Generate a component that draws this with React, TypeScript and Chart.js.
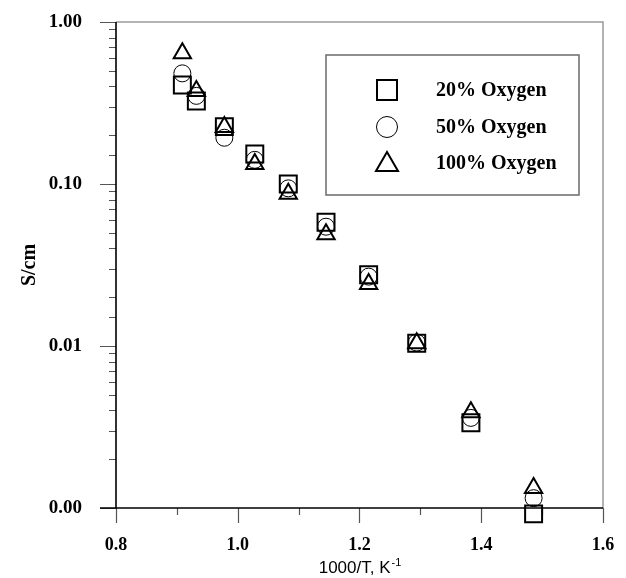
import React, { useEffect, useRef } from 'react';
import { Chart, registerables } from 'chart.js';

Chart.register(...registerables);

// 1000/T (K^-1)
const xValues = [0.909, 0.932, 0.978, 1.028, 1.083, 1.145, 1.215, 1.294, 1.383, 1.486];
// conductivity, S/cm
const oxygen20 = [0.408, 0.325, 0.226, 0.153, 0.100, 0.058, 0.0275, 0.0104, 0.00336, 0.00092];
const oxygen50 = [0.482, 0.35, 0.193, 0.141, 0.094, 0.0545, 0.0268, 0.0105, 0.0036, 0.00115];
const oxygen100 = [0.641, 0.375, 0.225, 0.133, 0.087, 0.049, 0.0241, 0.0104, 0.0039, 0.00133];
const seriesLabels = ['20% Oxygen', '50% Oxygen', '100% Oxygen'];
const xTitle = '1000/T, K';
const xTitleSup = '-1';
const yTitle = 'S/cm';

const SERIF = '"Liberation Serif", "Times New Roman", serif';
const SANS = '"Liberation Sans", Arial, sans-serif';

const isPow10 = (v: number) => {
  const l = Math.log10(v);
  return Math.abs(l - Math.round(l)) < 1e-6;
};
const isMajorX = (v: number) => Math.abs(v * 5 - Math.round(v * 5)) < 1e-6;

const framePlugin = {
  id: 'frame',
  beforeDatasetsDraw(chart: any) {
    const { ctx, chartArea } = chart;
    const { left, right, top, bottom } = chartArea;
    const xs = chart.scales.x;
    const ys = chart.scales.y;
    ctx.save();
    // top & right border
    ctx.strokeStyle = '#9a9a9a';
    ctx.lineWidth = 1.5;
    ctx.beginPath();
    ctx.moveTo(left, top);
    ctx.lineTo(right, top);
    ctx.lineTo(right, bottom);
    ctx.stroke();
    // ticks
    ctx.strokeStyle = '#555';
    ctx.lineWidth = 1.2;
    ctx.beginPath();
    xs.ticks.forEach((t: any) => {
      const px = Math.round(xs.getPixelForValue(t.value)) + 0.5;
      const len = isMajorX(t.value) ? 15 : 7;
      ctx.moveTo(px, bottom);
      ctx.lineTo(px, bottom + len);
    });
    ys.ticks.forEach((t: any) => {
      const py = Math.round(ys.getPixelForValue(t.value)) + 0.5;
      const len = isPow10(t.value) ? 16 : 7;
      ctx.moveTo(left, py);
      ctx.lineTo(left - len, py);
    });
    ctx.stroke();
    // main axes
    ctx.strokeStyle = '#000';
    ctx.lineWidth = 1.6;
    ctx.beginPath();
    ctx.moveTo(left, top);
    ctx.lineTo(left, bottom);
    ctx.moveTo(left - 16, bottom);
    ctx.lineTo(right, bottom);
    ctx.stroke();
    ctx.restore();
  },
  afterDraw(chart: any) {
    const { ctx, chartArea } = chart;
    const { left, right, top } = chartArea;
    ctx.save();
    // legend box
    const bx = left + 210;
    const by = top + 33;
    const bw = 253;
    const bh = 140;
    ctx.strokeStyle = '#6a6a6a';
    ctx.lineWidth = 1.5;
    ctx.strokeRect(bx, by, bw, bh);
    const sx = bx + 61;
    const tx = bx + 110;
    const rows = [by + 35, by + 72, by + 108];
    ctx.strokeStyle = '#000';
    // square
    ctx.lineWidth = 2;
    ctx.strokeRect(sx - 10, rows[0] - 10, 20, 20);
    // circle
    ctx.lineWidth = 1;
    ctx.beginPath();
    ctx.arc(sx, rows[1], 10.5, 0, Math.PI * 2);
    ctx.stroke();
    // triangle
    ctx.lineWidth = 2;
    ctx.beginPath();
    ctx.moveTo(sx, rows[2] - 11);
    ctx.lineTo(sx + 11, rows[2] + 8);
    ctx.lineTo(sx - 11, rows[2] + 8);
    ctx.closePath();
    ctx.stroke();
    ctx.fillStyle = '#000';
    ctx.font = `bold 20px ${SERIF}`;
    ctx.textAlign = 'left';
    ctx.textBaseline = 'middle';
    seriesLabels.forEach((s, i) => ctx.fillText(s, tx, rows[i] + 1));
    // x title with superscript
    ctx.font = `17px ${SANS}`;
    const w1 = ctx.measureText(xTitle).width;
    ctx.font = `11px ${SANS}`;
    const w2 = ctx.measureText(xTitleSup).width;
    const cx = (left + right) / 2;
    const x0 = cx - (w1 + w2) / 2;
    const ty = 567;
    ctx.textBaseline = 'alphabetic';
    ctx.font = `17px ${SANS}`;
    ctx.fillText(xTitle, x0, ty + 6);
    ctx.font = `11px ${SANS}`;
    ctx.fillText(xTitleSup, x0 + w1 + 1, ty - 1);
    ctx.restore();
  },
};

export default function App() {
  const ref = useRef<HTMLCanvasElement | null>(null);
  useEffect(() => {
    if (!ref.current) return;
    const mk = (ys: number[]) => xValues.map((x, i) => ({ x, y: ys[i] }));
    const chart = new Chart(ref.current, {
      type: 'scatter',
      data: {
        datasets: [
          {
            label: seriesLabels[0],
            data: mk(oxygen20),
            pointStyle: 'rect',
            pointRadius: 12,
            borderColor: '#000',
            backgroundColor: 'transparent',
            borderWidth: 2,
            clip: false,
          },
          {
            label: seriesLabels[1],
            data: mk(oxygen50),
            pointStyle: 'circle',
            pointRadius: 8.5,
            borderColor: '#000',
            backgroundColor: 'transparent',
            borderWidth: 1,
            clip: false,
          },
          {
            label: seriesLabels[2],
            data: mk(oxygen100),
            pointStyle: 'triangle',
            pointRadius: 10,
            borderColor: '#000',
            backgroundColor: 'transparent',
            borderWidth: 2,
            clip: false,
          },
        ] as any,
      },
      options: {
        animation: false,
        responsive: false,
        devicePixelRatio: 1,
        layout: { padding: { top: 22, right: 23, left: 0, bottom: 0 } },
        plugins: { legend: { display: false }, tooltip: { enabled: false } },
        scales: {
          x: {
            type: 'linear',
            min: 0.8,
            max: 1.6,
            border: { display: false },
            grid: { display: false, drawTicks: false },
            ticks: {
              stepSize: 0.1,
              autoSkip: false,
              maxRotation: 0,
              padding: 27,
              color: '#000',
              font: { family: SERIF, weight: 'bold', size: 18 },
              callback: (v: any) => (isMajorX(Number(v)) ? Number(v).toFixed(1) : ''),
            },
            afterFit: (s: any) => {
              s.height = 70;
              s.paddingLeft = 0;
              s.paddingRight = 0;
            },
          },
          y: {
            type: 'logarithmic',
            min: 0.001,
            max: 1,
            border: { display: false },
            grid: { display: false, drawTicks: false },
            ticks: {
              autoSkip: false,
              padding: 34,
              color: '#000',
              font: { family: SERIF, weight: 'bold', size: 19 },
              callback: (v: any) => (isPow10(Number(v)) ? Number(v).toFixed(2) : ''),
            },
            title: {
              display: true,
              text: yTitle,
              color: '#000',
              font: { family: SERIF, weight: 'bold', size: 20 },
              padding: { top: 18, bottom: 0 },
            },
            afterFit: (s: any) => {
              s.width = 116;
              s.paddingTop = 0;
              s.paddingBottom = 0;
            },
          },
        },
      } as any,
      plugins: [framePlugin],
    });
    return () => chart.destroy();
  }, []);
  return (
    <div style={{ position: 'absolute', left: 0, top: 0, width: 626, height: 578, background: '#fff' }}>
      <canvas ref={ref} width={626} height={578} style={{ width: 626, height: 578, display: 'block' }} />
    </div>
  );
}
